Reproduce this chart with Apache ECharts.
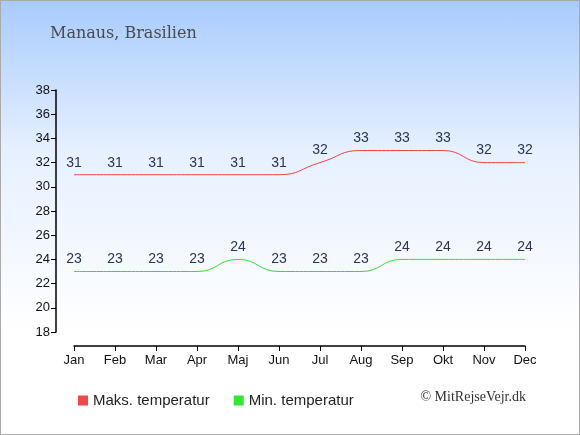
<!DOCTYPE html>
<html><head><meta charset="utf-8">
<script src="https://cdn.jsdelivr.net/npm/echarts@6/dist/echarts.min.js"></script>
<style>
html,body{margin:0;padding:0;}
#c{width:578px;height:433px;border:1px solid #aaaaaa;background:linear-gradient(to bottom,#a8cbff 0px,#e6f0ff 150px,#ffffff 330px,#ffffff 433px);}
</style></head>
<body><div id="c"></div>
<script>
const months = ['Jan','Feb','Mar','Apr','Maj','Jun','Jul','Aug','Sep','Okt','Nov','Dec'];
const maxTemp = [31,31,31,31,31,31,32,33,33,33,32,32];
const minTemp = [23,23,23,23,24,23,23,23,24,24,24,24];
const yTicks = {min:18, max:38, interval:2};
const titleText = 'Manaus, Brasilien';
const seriesNames = ['Maks. temperatur','Min. temperatur'];
const copyright = '© MitRejseVejr.dk';

const chart = echarts.init(document.getElementById('c'), null, {renderer:'canvas'});
const lbl = {show:true, position:'top', distance:5, color:'#2a3552', fontFamily:'Liberation Sans, Arial, sans-serif', fontSize:14};
chart.setOption({
  backgroundColor:'transparent',
  animation:false,
  title:{text:titleText, left:44, top:20, textStyle:{fontFamily:'DejaVu Serif, serif', fontWeight:'normal', fontSize:16, color:'#4a4a4a'}},
  legend:{
    data:[{name:seriesNames[0], itemStyle:{color:'#f24848'}},{name:seriesNames[1], itemStyle:{color:'#33e633'}}],
    left:72, top:387, icon:'rect', itemWidth:10, itemHeight:10, itemGap:24, itemTextGap:6,
    textStyle:{fontFamily:'Liberation Sans, Arial, sans-serif', fontSize:15, color:'#222'}
  },
  graphic:[{type:'text', right:53, top:389, style:{text:copyright, font:'14px "Liberation Serif", serif', fill:'#333'}}],
  grid:{left:73, right:54, top:89, bottom:102},
  xAxis:{type:'category', data:months, boundaryGap:false, offset:14,
    axisLine:{lineStyle:{color:'#000', width:1.5}}, axisTick:{show:true, length:5, lineStyle:{color:'#000'}},
    axisLabel:{color:'#111', fontFamily:'Liberation Sans, Arial, sans-serif', fontSize:13, margin:8}},
  yAxis:{type:'value', min:yTicks.min, max:yTicks.max, interval:yTicks.interval, offset:18,
    axisLine:{show:true, lineStyle:{color:'#000', width:1.5}}, axisTick:{show:true, length:5, lineStyle:{color:'#000'}},
    splitLine:{show:false},
    axisLabel:{color:'#111', fontFamily:'Liberation Sans, Arial, sans-serif', fontSize:13, margin:6}},
  series:[
    {name:seriesNames[0], type:'line', data:maxTemp, smooth:0.5, symbol:'circle', symbolSize:0, showSymbol:true, lineStyle:{color:'#ee4444', width:1}, itemStyle:{color:'#f24848'}, label:lbl},
    {name:seriesNames[1], type:'line', data:minTemp, smooth:0.5, symbol:'circle', symbolSize:0, showSymbol:true, lineStyle:{color:'#33dd33', width:1}, itemStyle:{color:'#33e633'}, label:lbl}
  ]
});
</script></body></html>
